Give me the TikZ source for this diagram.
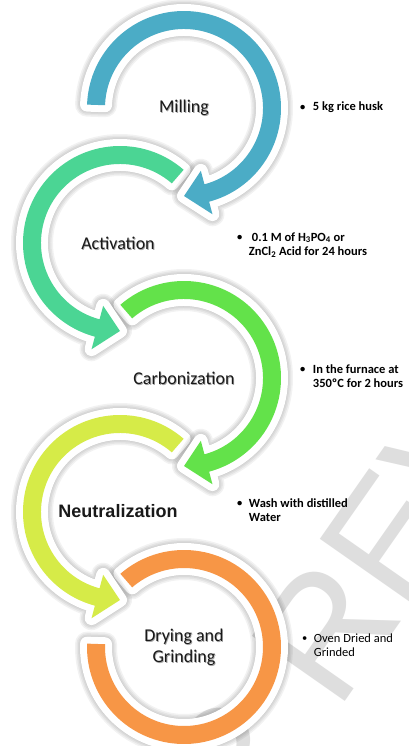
\documentclass[tikz,border=0pt]{standalone}
\usepackage{fontspec}
\setmainfont{Carlito}
\newfontfamily\arialfont{Liberation Sans}
\usetikzlibrary{calc}
\definecolor{cBlue}{RGB}{75,172,198}
\definecolor{cTeal}{RGB}{75,213,148}
\definecolor{cGreen}{RGB}{99,226,74}
\definecolor{cLime}{RGB}{214,235,72}
\definecolor{cOrange}{RGB}{247,150,70}
\definecolor{cMark}{RGB}{222,222,222}
\newcommand\bul{\raisebox{0.6pt}{\fontsize{10.5}{10.5}\selectfont\textbullet}}
\tikzset{
  steplabel/.style={inner sep=0pt, font=\fontsize{18}{21}\selectfont, text=black!90, align=center},
  labelshadow/.style={inner sep=0pt, font=\fontsize{18}{21}\selectfont, text=black!35, align=center},
  bullettext/.style={inner sep=0pt, anchor=base west, font=\fontsize{12.5}{14.5}\selectfont, text=black},
  boldnote/.style={bullettext, font=\bfseries\fontsize{12.5}{14.5}\selectfont},
  watermark/.style={inner sep=0pt, rotate=55, font=\arialfont\fontsize{165}{165}\selectfont, text=cMark},
}
% #1 centre, #2 start angle, #3 base angle of head, #4 tip angle
\newcommand\arrowpath[4]{%
  \def\shp{($(#1)+(#2:97pt)$) arc[start angle=#2, end angle=#3, radius=97pt]
    -- ($(#1)+(#3:110pt)$) -- ($(#1)+(#4:88pt)$) -- ($(#1)+(#3:65pt)$)
    -- ($(#1)+(#3:79pt)$) arc[start angle=#3, end angle=#2, radius=79pt] -- cycle}}
\newcommand\ringpath[3]{%
  \def\shp{($(#1)+(#2:97pt)$) arc[start angle=#2, end angle=#3, radius=97pt]
    -- ($(#1)+(#3:79pt)$) arc[start angle=#3, end angle=#2, radius=79pt] -- cycle}}
\newcommand\paintshape[1]{%
  \foreach \k in {1,...,4}{%
    \begin{scope}[transparency group, opacity=0.05, shift={(2,-3)}]
      \path[fill=black, draw=black, line width={12pt+3pt*\k}, line join=round] \shp;
    \end{scope}}
  \path[fill=white, draw=white, line width=14pt, line join=round] \shp;
  \path[fill=#1] \shp;}
\begin{document}
\begin{tikzpicture}[x=1pt,y=1pt]
\useasboundingbox (0,0) rectangle (409,-746);
\fill[white] (0,0) rectangle (409,-746);
\begin{scope}
\clip (0,0) rectangle (409,-746);
\node[watermark, anchor=base west] (wm1) at (337,-713) {REVIEW};
\node[watermark, anchor=base east] (wm2) at (310.6,-750.7) {UNDER PEER};
\end{scope}
\coordinate (cM) at (184,-108);
\coordinate (cA) at (120,-243);
\coordinate (cC) at (184,-378);
\coordinate (cN) at (120,-512);
\coordinate (cD) at (184,-647);
% shapes, drawn from the last step up
\ringpath{cD}{131}{-182}\paintshape{cOrange}
\arrowpath{cN}{49}{255}{270}\paintshape{cLime}
\arrowpath{cC}{131}{-75}{-90}\paintshape{cGreen}
\arrowpath{cA}{49}{255}{270}\paintshape{cTeal}
\arrowpath{cM}{178}{-75}{-90}\paintshape{cBlue}
% step labels
\node[labelshadow] (sM) at ($(cM)+(0.8,-0.9)$) {Milling};
\node[steplabel] (tM) at (cM) {Milling};
\node[labelshadow] (sA) at ($(cA)+(-1.2,-0.9)$) {Activation};
\node[steplabel] (tA) at ($(cA)+(-2,0)$) {Activation};
\node[labelshadow] (sC) at ($(cC)+(0.8,-0.9)$) {Carbonization};
\node[steplabel] (tC) at (cC) {Carbonization};
\node[steplabel, font=\arialfont\bfseries\fontsize{18}{21}\selectfont] (tN) at ($(cN)+(-2,1)$) {Neutralization};
\node[labelshadow] (sD) at ($(cD)+(0.8,-0.9)$) {Drying and\\Grinding};
\node[steplabel] (tD) at (cD) {Drying and\\Grinding};
% bullet notes
\node[boldnote] (nM) at (300,-111)
  {\bul\hspace{7.5pt}5 kg rice husk};
\node[boldnote] (nA) at (237,-241)
  {\begin{tabular}[t]{@{}l@{\hspace{6.5pt}}l@{}}\bul & \hspace{3pt}0.1 M of H\textsubscript{3}PO\textsubscript{4} or\\ & ZnCl\textsubscript{2} Acid for 24 hours\end{tabular}};
\node[boldnote] (nC) at (300,-373)
  {\begin{tabular}[t]{@{}l@{\hspace{7.5pt}}l@{}}\bul & In the furnace at\\ & 350ºC for 2 hours\end{tabular}};
\node[boldnote] (nN) at (237,-507)
  {\begin{tabular}[t]{@{}l@{\hspace{6.5pt}}l@{}}\bul & Wash with distilled\\ & Water\end{tabular}};
\node[bullettext] (nD) at (302,-642)
  {\begin{tabular}[t]{@{}l@{\hspace{6.5pt}}l@{}}\bul & Oven Dried and\\ & Grinded\end{tabular}};
\end{tikzpicture}
\end{document}
